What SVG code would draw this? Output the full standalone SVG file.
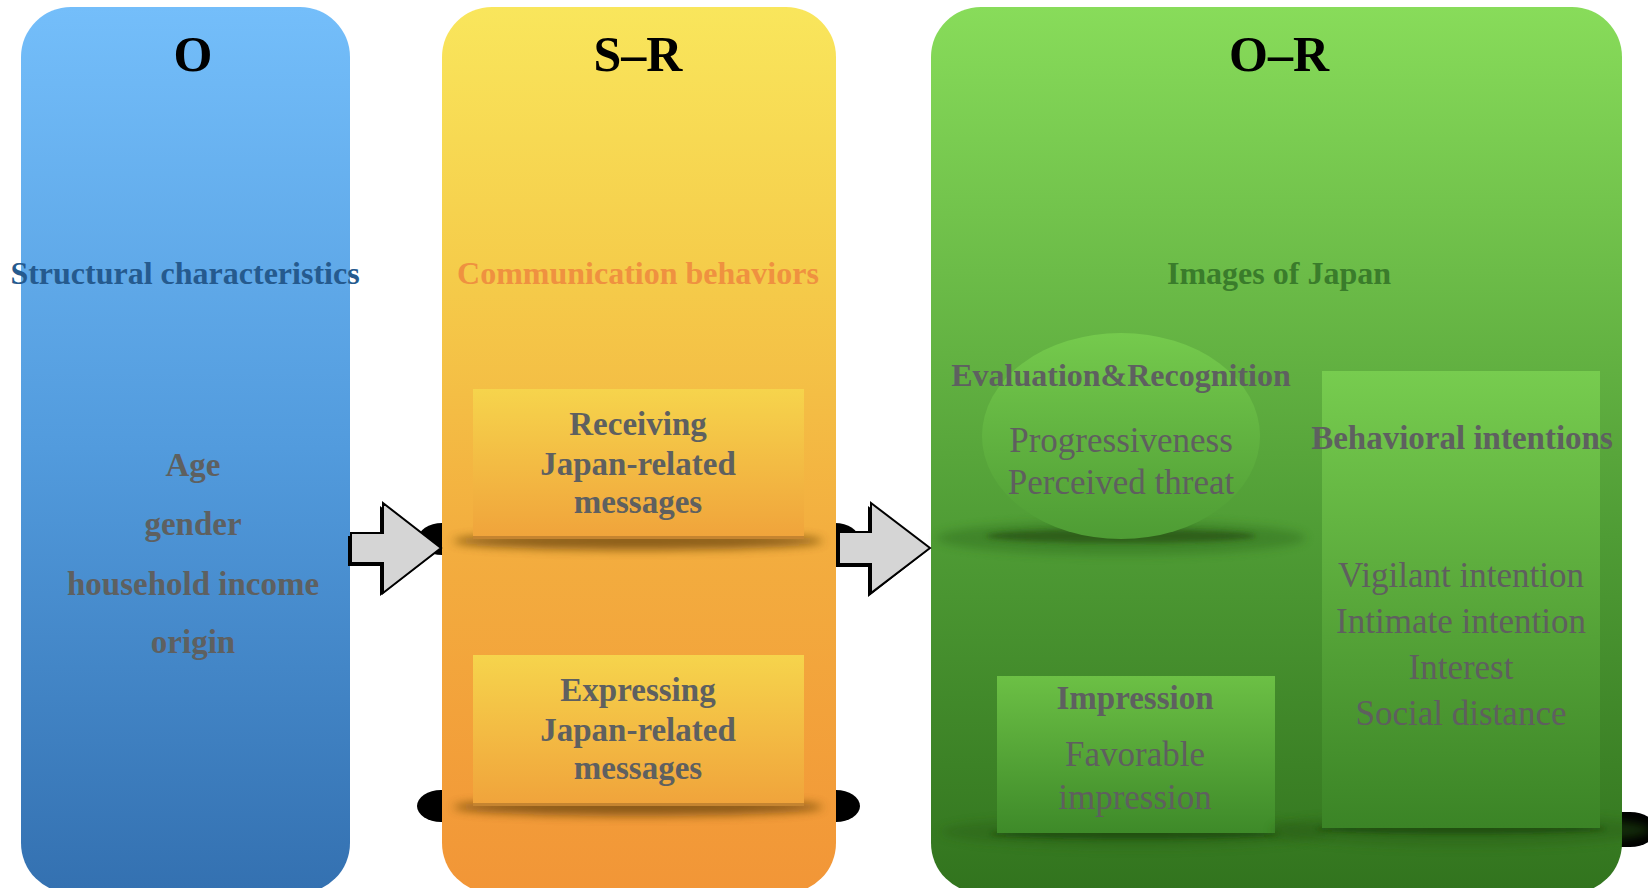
<svg xmlns="http://www.w3.org/2000/svg" width="1648" height="888" viewBox="0 0 1648 888">
  <style>
    text { font-family: "Liberation Serif", "Times New Roman", serif; text-anchor: middle; }
    .title { font-size: 50px; font-weight: bold; fill: #000; }
    .head { font-size: 32px; font-weight: bold; }
    .bold { font-size: 33px; font-weight: bold; fill: #5e6060; }
    .item { font-size: 35px; fill: #5f5f5f; }
    .blob { fill: #000; }
    .arrow { fill: #d5d5d5; stroke: #000; stroke-width: 2; stroke-linejoin: miter; }
    .arrow-shade { fill: #000; }
  </style>
  <defs>
    <linearGradient id="gBlue" gradientUnits="userSpaceOnUse" x1="0" y1="7" x2="0" y2="888">
      <stop offset="0" stop-color="#74befa"/>
      <stop offset="0.5" stop-color="#529bdd"/>
      <stop offset="1" stop-color="#3471b1"/>
    </linearGradient>
    <linearGradient id="gOrange" gradientUnits="userSpaceOnUse" x1="0" y1="7" x2="0" y2="888">
      <stop offset="0" stop-color="#f9e65c"/>
      <stop offset="0.3" stop-color="#f5cc4a"/>
      <stop offset="0.6" stop-color="#f3ae3f"/>
      <stop offset="1" stop-color="#f29637"/>
    </linearGradient>
    <linearGradient id="gGreen" gradientUnits="userSpaceOnUse" x1="0" y1="7" x2="0" y2="888">
      <stop offset="0" stop-color="#88dc5a"/>
      <stop offset="0.3" stop-color="#6cbc48"/>
      <stop offset="0.6" stop-color="#4f9c35"/>
      <stop offset="1" stop-color="#32741e"/>
    </linearGradient>
    <linearGradient id="gBoxOrange" x1="0" y1="0" x2="0" y2="1">
      <stop offset="0" stop-color="#f6d44c"/>
      <stop offset="1" stop-color="#f0a33b"/>
    </linearGradient>
    <linearGradient id="gEllipse" x1="0" y1="0" x2="0" y2="1">
      <stop offset="0" stop-color="#75ca4d"/>
      <stop offset="1" stop-color="#4e9c34"/>
    </linearGradient>
    <linearGradient id="gBoxGreen" x1="0" y1="0" x2="0" y2="1">
      <stop offset="0" stop-color="#77cc4f"/>
      <stop offset="1" stop-color="#3b8426"/>
    </linearGradient>
    <linearGradient id="gImpr" x1="0" y1="0" x2="0" y2="1">
      <stop offset="0" stop-color="#6cc045"/>
      <stop offset="1" stop-color="#3e8a29"/>
    </linearGradient>
    <filter id="soft" x="-20%" y="-200%" width="140%" height="500%">
      <feGaussianBlur stdDeviation="5"/>
    </filter>
    <filter id="softer" x="-20%" y="-200%" width="140%" height="500%">
      <feGaussianBlur stdDeviation="2.5"/>
    </filter>
  </defs>

  <!-- column O -->
  <g id="panel-o">
    <rect x="21" y="7" width="329" height="886" rx="50" ry="50" fill="url(#gBlue)"/>
    <text class="title" x="193" y="71">O</text>
    <text class="head" x="185" y="284" fill="#255a8e">Structural characteristics</text>
    <text class="bold" x="193" y="476">Age</text>
    <text class="bold" x="193" y="535">gender</text>
    <text class="bold" x="193" y="595">household income</text>
    <text class="bold" x="193" y="653">origin</text>
  </g>

  <!-- column S–R -->
  <g id="panel-sr">
    <rect class="blob" x="418" y="523" width="441" height="32" rx="24" ry="16"/>
    <rect class="blob" x="417" y="790" width="443" height="32" rx="24" ry="16"/>
    <rect x="442" y="7" width="394" height="886" rx="50" ry="50" fill="url(#gOrange)"/>
    <text class="title" x="638" y="71">S–R</text>
    <text class="head" x="638" y="284" fill="#ef9140">Communication behaviors</text>
  </g>

  <g id="box-receiving">
    <ellipse cx="638" cy="541" rx="185" ry="9" fill="#6a4510" opacity="0.75" filter="url(#soft)"/>
    <rect x="473" y="389" width="331" height="150" fill="url(#gBoxOrange)"/>
    <rect x="473" y="536" width="331" height="3" fill="#a8702a" opacity="0.6"/>
    <text class="bold" x="638" y="435">Receiving</text>
    <text class="bold" x="638" y="475">Japan-related</text>
    <text class="bold" x="638" y="513">messages</text>
  </g>

  <g id="box-expressing">
    <ellipse cx="638" cy="807" rx="185" ry="9" fill="#6a4510" opacity="0.75" filter="url(#soft)"/>
    <rect x="473" y="655" width="331" height="151" fill="url(#gBoxOrange)"/>
    <rect x="473" y="803" width="331" height="3" fill="#a8702a" opacity="0.6"/>
    <text class="bold" x="638" y="701">Expressing</text>
    <text class="bold" x="638" y="741">Japan-related</text>
    <text class="bold" x="638" y="779">messages</text>
  </g>

  <!-- column O–R -->
  <g id="panel-or">
    <rect class="blob" x="1290" y="812" width="366" height="35" rx="26" ry="17"/>
    <rect x="931" y="7" width="691" height="886" rx="50" ry="50" fill="url(#gGreen)"/>
    <text class="title" x="1279" y="71">O–R</text>
    <text class="head" x="1279" y="284" fill="#3a7c2b">Images of Japan</text>
  </g>

  <g id="ellipse-evaluation">
    <ellipse cx="1121" cy="538" rx="185" ry="17" fill="#2f6a1d" opacity="0.45" filter="url(#soft)"/>
    <ellipse cx="1121" cy="536" rx="135" ry="7" fill="#2a5716" opacity="0.8" filter="url(#softer)"/>
    <ellipse cx="1121" cy="436" rx="139" ry="103" fill="url(#gEllipse)"/>
    <text class="bold" x="1121" y="386" style="font-size:32px">Evaluation&amp;Recognition</text>
    <text class="item" x="1121" y="452">Progressiveness</text>
    <text class="item" x="1121" y="494">Perceived threat</text>
  </g>

  <g id="box-impression">
    <ellipse cx="1135" cy="832" rx="195" ry="16" fill="#2b5f19" opacity="0.45" filter="url(#soft)"/>
    <ellipse cx="1135" cy="834" rx="145" ry="5" fill="#1f4a10" opacity="0.8" filter="url(#softer)"/>
    <rect x="997" y="676" width="278" height="157" fill="url(#gImpr)"/>
    <text class="bold" x="1135" y="709">Impression</text>
    <text class="item" x="1135" y="766">Favorable</text>
    <text class="item" x="1135" y="809">impression</text>
  </g>

  <g id="box-behavioral">
    <ellipse cx="1461" cy="830" rx="190" ry="17" fill="#2b5f19" opacity="0.45" filter="url(#soft)"/>
    <ellipse cx="1461" cy="829" rx="145" ry="5" fill="#1f4a10" opacity="0.8" filter="url(#softer)"/>
    <rect x="1322" y="371" width="278" height="457" fill="url(#gBoxGreen)"/>
    <text class="bold" x="1462" y="449">Behavioral intentions</text>
    <text class="item" x="1461" y="587">Vigilant intention</text>
    <text class="item" x="1461" y="633">Intimate intention</text>
    <text class="item" x="1461" y="679">Interest</text>
    <text class="item" x="1461" y="725">Social distance</text>
  </g>

  <!-- block arrows between the columns -->
  <g id="connectors">
    <path class="arrow-shade" d="M348,536 H380 V506 L438,551 L380,596 V566 H348 Z"/>
    <path class="arrow" d="M351,533 H383 V503 L441,548 L383,593 V563 H351 Z"/>
    <path class="arrow-shade" d="M836,535 H868 V506 L927,551 L868,597 V567 H836 Z"/>
    <path class="arrow" d="M839,532 H871 V503 L930,548 L871,593 V564 H839 Z"/>
  </g>
</svg>
